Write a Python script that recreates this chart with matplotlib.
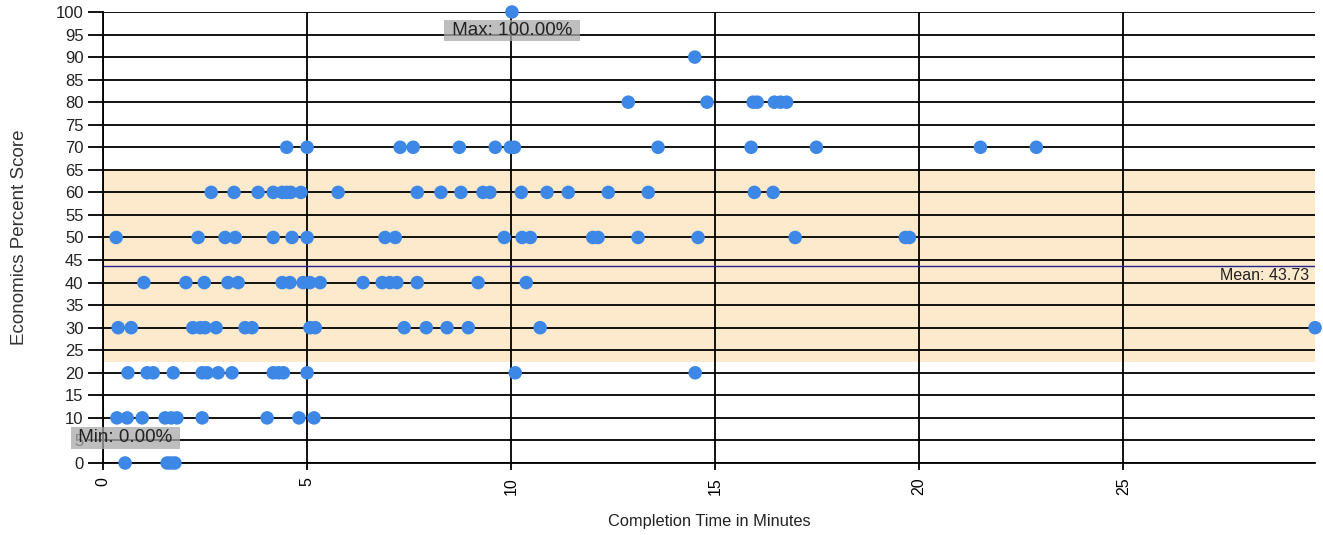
import matplotlib
matplotlib.use("Agg")
import matplotlib.pyplot as plt
import numpy as np

# Completion time (minutes) and score (%) for each student
completion_min = [
    10.02,
    14.5,
    12.87, 14.8, 15.93, 16.03, 16.45, 16.6, 16.75,
    4.5, 5.0, 7.28, 7.6, 8.73, 9.61, 9.98, 10.08, 13.6, 15.88, 17.48, 21.5, 22.87,
    2.65, 3.21, 3.8, 4.17, 4.39, 4.5, 4.6, 4.85, 5.76, 7.7, 8.28, 8.77, 9.31,
    9.48, 10.25, 10.88, 11.4, 12.38, 13.36, 15.96, 16.42,
    0.32, 2.33, 2.99, 3.24, 4.17, 4.63, 5.0, 6.91, 7.16, 9.83, 10.27, 10.47,
    12.0, 12.13, 13.11, 14.58, 16.96, 19.66, 19.76,
    1.0, 2.03, 2.48, 3.06, 3.31, 4.39, 4.58, 4.9, 5.07, 5.32, 6.37, 6.84, 7.03,
    7.2, 7.7, 9.19, 10.37,
    0.37, 0.69, 2.2, 2.38, 2.5, 2.77, 3.48, 3.65, 5.07, 5.2, 7.38, 7.92, 8.43,
    8.95, 10.71, 29.7,
    0.61, 1.08, 1.23, 1.72, 2.43, 2.55, 2.82, 3.16, 4.17, 4.3, 4.42, 5.0, 10.1, 14.51,
    0.34, 0.59, 0.96, 1.52, 1.67, 1.81, 2.43, 4.02, 4.8, 5.17,
    0.54, 1.57, 1.66, 1.76,
]
econ_score = (
    [100] * 1 + [90] * 1 + [80] * 7 + [70] * 13 + [60] * 21 + [50] * 19
    + [40] * 17 + [30] * 16 + [20] * 14 + [10] * 10 + [0] * 4
)

mean_score = 43.73
std_score = 21.3
max_score = 100.00
min_score = 0.00

x_ticks = [0, 5, 10, 15, 20, 25]
y_ticks = list(range(0, 101, 5))

FONT = "Liberation Sans"

fig = plt.figure(figsize=(13.23, 5.35), dpi=100)
ax = fig.add_axes([0.0779, 0.1346, 0.9161, 0.843])

# one standard deviation band around the mean
ax.axhspan(mean_score - std_score, mean_score + std_score,
           color="#FDE9CC", lw=0, zorder=0)

ax.grid(True, color="black", lw=1.3, zorder=1)
ax.set_axisbelow(True)

ax.axhline(mean_score, color="#26268A", lw=1.0, zorder=2)

ax.scatter(completion_min, econ_score, s=95, color="#3D87E6",
           edgecolors="none", zorder=3, clip_on=False)

ax.set_xlim(0, max(completion_min))
ax.set_ylim(0, 100)
ax.set_xticks(x_ticks)
ax.set_yticks(y_ticks)
ax.set_xticklabels([str(t) for t in x_ticks], rotation=90, fontsize=11.5,
                   family=FONT)
ax.set_yticklabels([str(t) for t in y_ticks], fontsize=12, family=FONT,
                   color="#222222")
ax.tick_params(axis="y", direction="out", length=10.5, width=1.3,
               color="black", pad=3.5)
ax.tick_params(axis="x", direction="out", length=5, width=1.3,
               color="black", pad=5.5)

for side in ["top", "right"]:
    ax.spines[side].set_visible(False)
for side in ["left", "bottom"]:
    ax.spines[side].set_color("black")
    ax.spines[side].set_linewidth(1.3)

ax.set_xlabel("Completion Time in Minutes", fontsize=11.8, family=FONT,
              color="#222222")
ax.xaxis.set_label_coords(0.5, -0.112)
ax.set_ylabel("Economics Percent Score", fontsize=13.5, family=FONT,
              color="#333333")
ax.yaxis.set_label_coords(-0.062, 0.5)

i_max = int(np.argmax(econ_score))
i_min = int(np.argmin(econ_score))
# translucent grey boxes so the grid and tick labels stay visible underneath
box = dict(boxstyle="square,pad=0.12", fc="#A8A8A8", ec="none", alpha=0.75)

ax.annotate(f" Max: {max_score:.2f}% ", (completion_min[i_max], econ_score[i_max]),
            xytext=(0, -13.5), textcoords="offset points", ha="center",
            va="center", fontsize=13.5, family=FONT, color="#222222",
            bbox=box, zorder=5, annotation_clip=False)
ax.annotate(f" Min: {min_score:.2f}% ", (completion_min[i_min], econ_score[i_min]),
            xytext=(0, 18), textcoords="offset points", ha="center",
            va="center", fontsize=13.5, family=FONT, color="#222222",
            bbox=box, zorder=5, annotation_clip=False)

ax.annotate(f"Mean: {mean_score:.2f}", (max(completion_min), mean_score),
            xytext=(-4, -1.5), textcoords="offset points", ha="right", va="top",
            fontsize=11.5, family=FONT, color="#222222", zorder=4)

fig.savefig("out.png", dpi=100)
